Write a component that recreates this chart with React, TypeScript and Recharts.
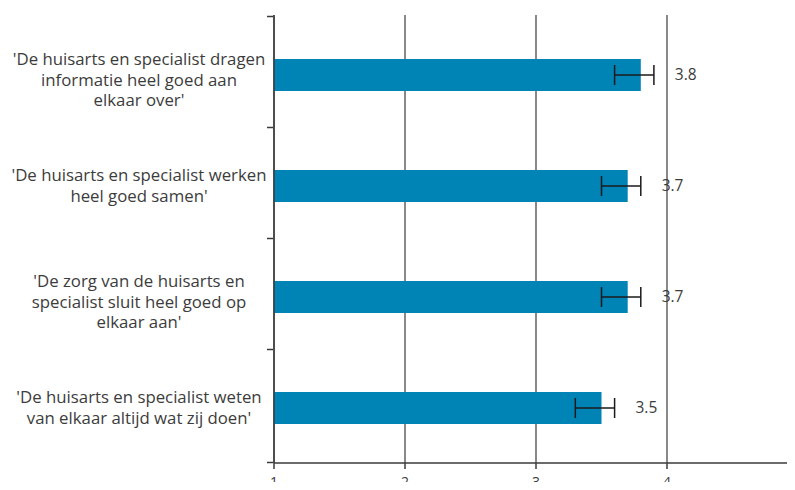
import React from "react";
import {
  BarChart,
  Bar,
  XAxis,
  YAxis,
  CartesianGrid,
  ErrorBar,
  LabelList,
} from "recharts";

const statements = [
  "'De huisarts en specialist dragen\ninformatie heel goed aan\nelkaar over'",
  "'De huisarts en specialist werken\nheel goed samen'",
  "'De zorg van de huisarts en\nspecialist sluit heel goed op\nelkaar aan'",
  "'De huisarts en specialist weten\nvan elkaar altijd wat zij doen'",
];
const scores = [3.8, 3.7, 3.7, 3.5];
const errorLow = [0.2, 0.2, 0.2, 0.2];
const errorHigh = [0.1, 0.1, 0.1, 0.1];
const xTicks = [1, 2, 3, 4];

const data = statements.map((s, i) => ({
  name: s,
  score: scores[i],
  err: [errorLow[i], errorHigh[i]],
}));

const textColor = "#3c3c3c";
const lineColor = "#3a3a3a";

// multi-line category label, plus tick marks on the band edges
function StatementTick(props: any) {
  const { x, y, payload, index } = props;
  const lines = String(payload.value).split("\n");
  const n = lines.length;
  const start = y - (n - 1) * 10 + (n - 2) * 5;
  return (
    <g>
      <line x1={x + 1} x2={x + 7} y1={y - 58} y2={y - 58} stroke={lineColor} strokeWidth={1.5} />
      {index === statements.length - 1 && (
        <line x1={x + 1} x2={x + 7} y1={y + 55} y2={y + 55} stroke={lineColor} strokeWidth={1.5} />
      )}
      <text x={139} y={start} textAnchor="middle" fill={textColor} fontSize={16.8} fontFamily="Open Sans">
        {lines.map((l, i) => (
          <tspan key={i} x={139} y={start + i * 20.5} dy="0.35em">
            {l}
          </tspan>
        ))}
      </text>
    </g>
  );
}

function ScoreLabel(props: any) {
  const { x, y, width, height, value } = props;
  return (
    <text
      x={x + width + 34}
      y={y + height / 2}
      dy="0.35em"
      fill={textColor}
      fontSize={15.5}
      fontFamily="Open Sans"
    >
      {value}
    </text>
  );
}

export default function App() {
  return (
    <div style={{ margin: -8, width: 795, height: 490, overflow: "hidden", background: "#fff" }}>
      <BarChart
        width={800}
        height={490}
        data={data}
        layout="vertical"
        margin={{ top: 15, right: 2, left: 0, bottom: 0 }}
        barSize={32}
      >
        <CartesianGrid horizontal={false} stroke={lineColor} strokeWidth={1.2} />
        <XAxis
          type="number"
          domain={[1, 5]}
          ticks={xTicks}
          height={27}
          axisLine={{ stroke: lineColor, strokeWidth: 1.5 }}
          tickLine={{ stroke: lineColor, strokeWidth: 1.5 }}
          tickSize={6}
          tickMargin={8}
          tick={{ fill: textColor, fontSize: 14, fontFamily: "Open Sans" }}
        />
        <YAxis
          type="category"
          dataKey="name"
          width={274}
          padding={{ top: 4, bottom: 0 }}
          axisLine={{ stroke: lineColor, strokeWidth: 1.5 }}
          tickLine={false}
          tick={<StatementTick />}
          interval={0}
        />
        <Bar dataKey="score" fill="#0083b5" isAnimationActive={false}>
          <ErrorBar dataKey="err" direction="x" width={10} stroke="#1a1a1a" strokeWidth={1.5} />
          <LabelList dataKey="score" content={<ScoreLabel />} />
        </Bar>
      </BarChart>
    </div>
  );
}
